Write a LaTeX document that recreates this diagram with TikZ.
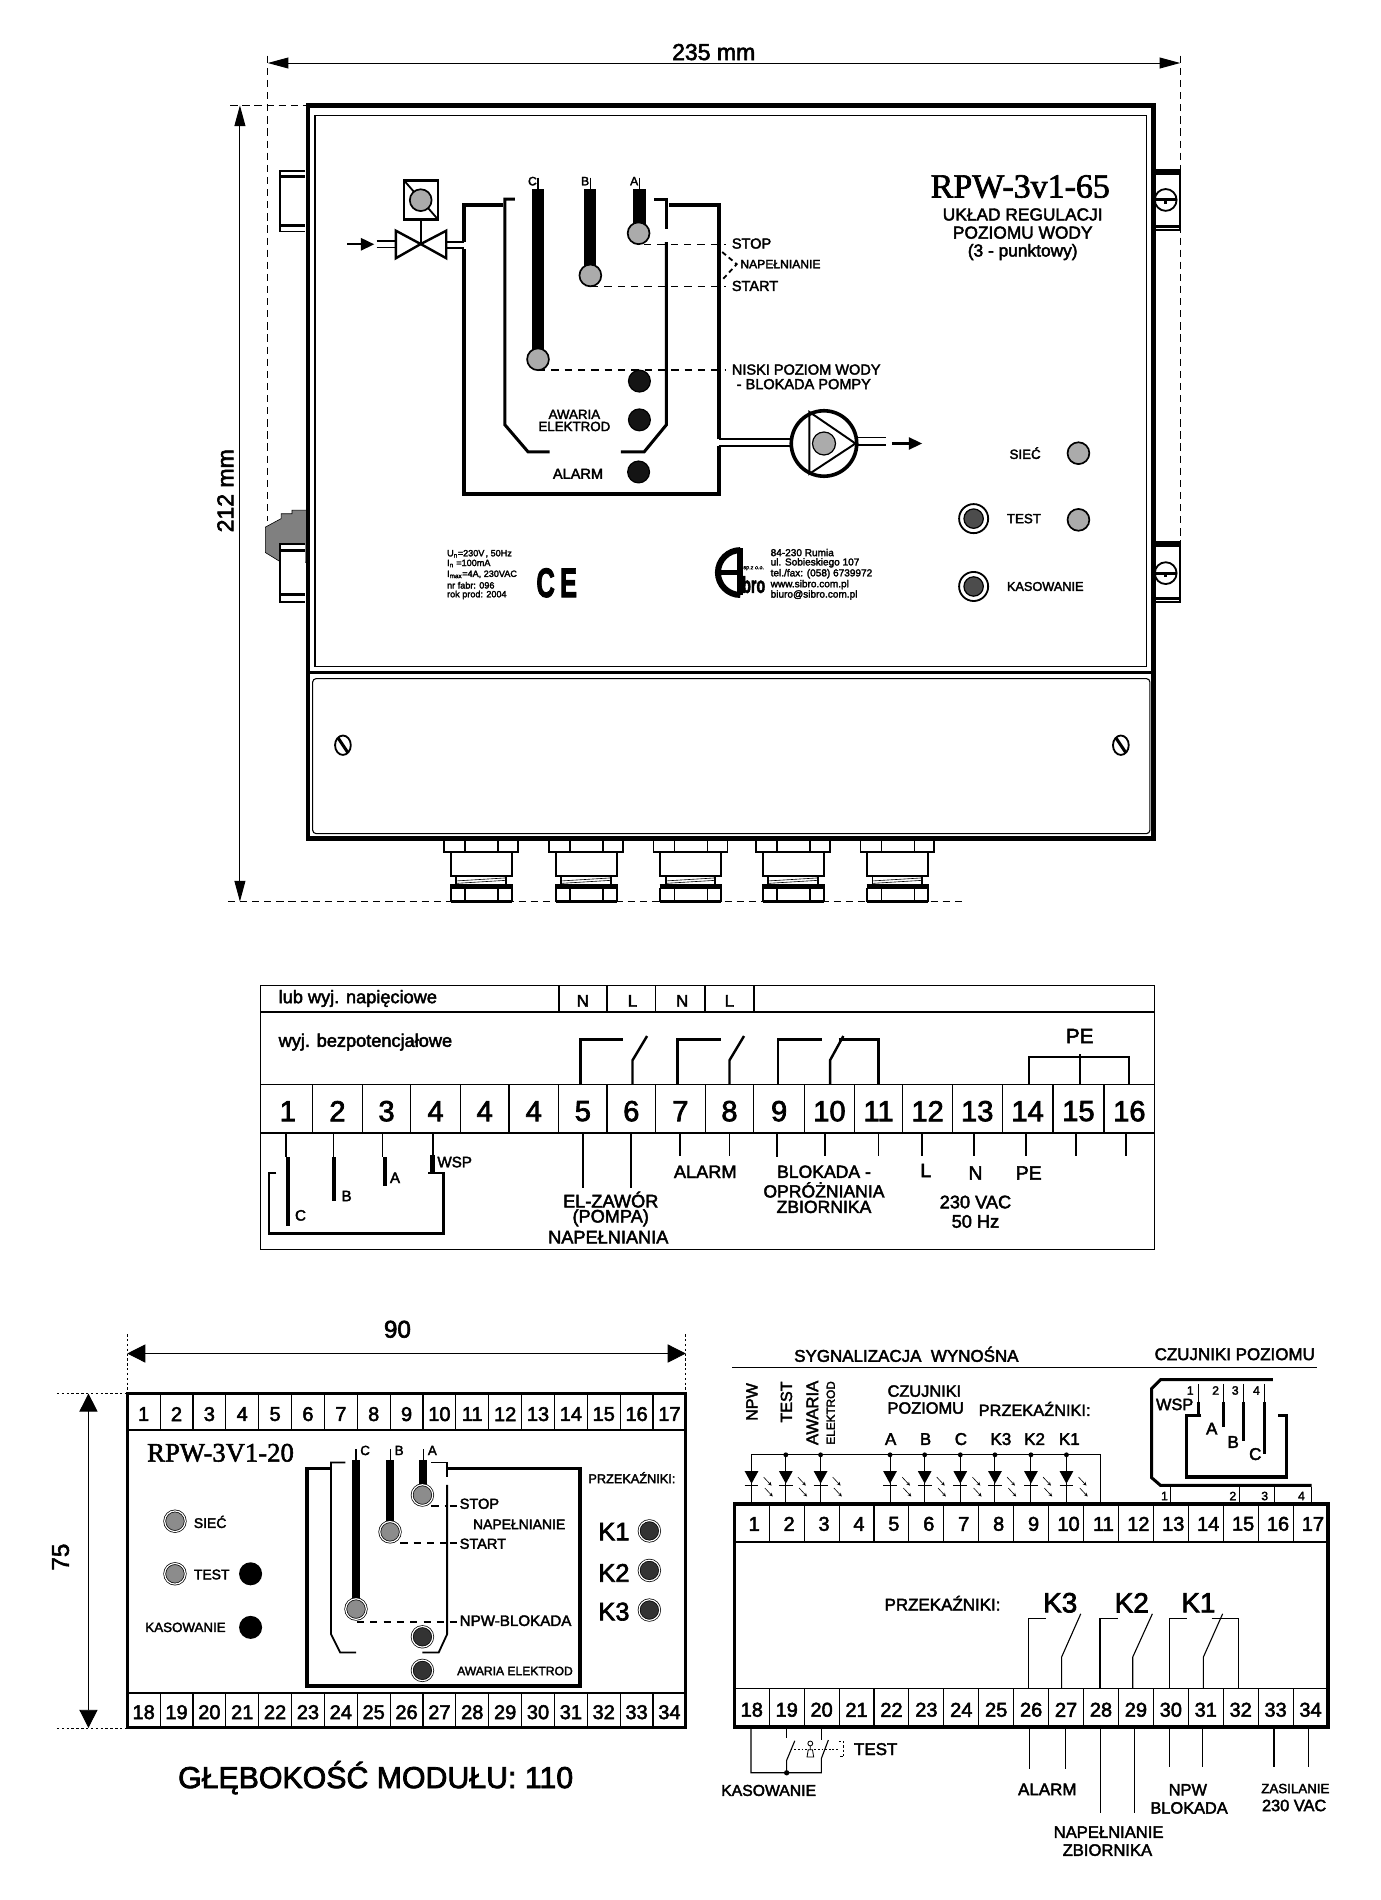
\documentclass[tikz,border=0pt]{standalone}
\usepackage{fontspec}
\setmainfont{Liberation Sans}[RawFeature={embolden=2.5}]
\newfontfamily\serifface{Liberation Serif}[RawFeature={embolden=2}]
\usetikzlibrary{arrows.meta}

\tikzset{
  txt/.style={inner sep=0pt,outer sep=0pt,font=\fontsize{#1}{#1}\selectfont},
  thinline/.style={line width=0.9pt},
  midline/.style={line width=1.5pt},
  wall/.style={line width=3.2pt,line join=miter},
  innerwall/.style={line width=2.5pt,line join=miter},
  dashline/.style={line width=1.5pt,dash pattern=on 6pt off 5pt},
  dimdash/.style={line width=0.8pt,dash pattern=on 6pt off 4pt},
  dimdot/.style={line width=0.7pt,dash pattern=on 2pt off 2pt},
  bighead/.style={{Triangle[length=17pt,width=9pt]}-{Triangle[length=17pt,width=9pt]},line width=0.8pt},
  fathead/.style={{Triangle[length=15pt,width=15pt]}-{Triangle[length=15pt,width=15pt]},line width=0.8pt},
  flowarrow/.style={-{Triangle[length=11pt,width=10pt]},line width=1.8pt},
  ledgray/.style={circle,draw=black,line width=1.4pt,fill=black!33,minimum size=18pt,inner sep=0pt},
  ledblack/.style={circle,draw=black,line width=1pt,fill=black!92,minimum size=18pt,inner sep=0pt},
  ledring/.style={circle,draw=black,double=white,double distance=1pt,line width=0.6pt,minimum size=17pt,inner sep=0pt},
  lighttick/.style={-{Stealth[length=3pt,width=3pt,open]},line width=0.5pt}
}

\begin{document}
\begin{tikzpicture}[x=1pt,y=-1pt]
\useasboundingbox (0,0) rectangle (1139,1568);
\fill[white] (0,0) rectangle (1139,1568);

% dimensions of the housing
\draw[dimdash] (221,46) -- (221,430);
\draw[dimdash] (974,46) -- (974,450);
\draw[dimdash] (190,87) -- (254,87);
\draw[dimdash] (188,744) -- (795,744);
\coordinate (wl) at (221,52);
\coordinate (wr) at (974,52);
\draw[bighead] (wl) -- (wr);
\node[txt=19,fill=white,inner xsep=1pt] (width) at (589,43) {235 mm};
\coordinate (ht) at (198,87);
\coordinate (hb) at (198,744);
\draw[bighead] (ht) -- (hb);
\node[txt=19,rotate=90] (height) at (186,405) {212 mm};

% brackets and cable gland on the left
\fill[black!50,draw=black,line width=0.5pt] (219,435) -- (232,428) -- (232,424) -- (241,424) -- (241,421) -- (254,421) -- (254,464) -- (232,464) -- (219,456) -- cycle;
\draw[midline,fill=white] (252,141) -- (231,141) -- (231,191) -- (252,191);
\draw[midline,fill=white] (252,449) -- (231,449) -- (231,497) -- (252,497);
\draw[line width=2.5pt] (231,146) -- (252,146) (231,186) -- (252,186);
\draw[line width=2.5pt] (231,454) -- (252,454) (231,491) -- (252,491);

% brackets on the right
\foreach \ya/\yb/\yc in {140/190/165,447/497/473}{
  \draw[midline] (952,\ya) -- (974,\ya) -- (974,\yb) -- (952,\yb);
  \draw[line width=3pt] (952,\ya+3) -- (974,\ya+3) (952,\yb-3) -- (974,\yb-3);
  \draw[midline] (962,\yc) circle (9pt);
  \draw[line width=2.5pt] (953,\yc) -- (971,\yc);
  \draw[line width=2pt] (962,\yc) -- (962,\yc+3.5);
}

% housing
\draw[line width=3.6pt] (254,87) rectangle (952,692);
\draw[line width=3pt] (254,555) -- (952,555);
\draw[line width=1pt] (260,95) rectangle (946,550);
\draw[line width=0.9pt,rounded corners=3pt] (258,560) rectangle (949,688);
\foreach \x in {283,925}{
  \draw[midline] (\x,615) ellipse (6.5pt and 8pt);
  \draw[line width=2.5pt] (\x-4,609) -- (\x+4,621);
}

% glands below the housing
\foreach \x in {366.5,453.2,539.3,624,710.1}{
  \draw[midline] (\x,692) rectangle (\x+61,703);
  \draw[midline] (\x+17.4,692) -- (\x+17.4,703) (\x+44.6,692) -- (\x+44.6,703);
  \draw[midline] (\x+5.5,703) rectangle (\x+56,723);
  \draw[midline] (\x+10,723) rectangle (\x+51,730);
  \draw[line width=0.5pt] (\x+10,727) -- (\x+51,724.5) (\x+10,729) -- (\x+51,726.5);
  \draw[line width=3.5pt] (\x+5,731.5) -- (\x+56.5,731.5);
  \draw[midline] (\x+5.5,733) -- (\x+5.5,744) (\x+56,733) -- (\x+56,744) (\x+17.4,733) -- (\x+17.4,744) (\x+44.6,733) -- (\x+44.6,744);
  \draw[line width=2pt] (\x+5.5,744) -- (\x+56,744);
}

% valve on the inlet
\begin{scope}[shift={(1,1)}]
\draw[line width=2pt] (332.5,148) rectangle (360.4,180);
\draw[midline] (332.5,148) -- (360.4,180);
\node[ledgray] (coil) at (346.2,164.2) {};
\draw[line width=2pt,fill=white] (325.7,189.4) -- (346.2,200.4) -- (325.7,212.1) -- cycle;
\draw[line width=2pt,fill=white] (367.3,189.4) -- (346.2,200.4) -- (367.3,212.1) -- cycle;
\draw[line width=2pt] (346.2,180) -- (346.2,200.4);
\draw[midline] (309.8,197.6) -- (325.7,197.6) (309.8,203.3) -- (325.7,203.3);
\draw[midline] (367.3,198.4) -- (382,198.4) (367.3,203.9) -- (382,203.9);
\coordinate (inl) at (285.4,200.6);
\coordinate (inr) at (307.9,200.6);
\draw[flowarrow] (inl) -- (inr);
\end{scope}

% tank
\begin{scope}[shift={(2,1.5)}]
\draw[wall] (413,168) -- (381,168) -- (381,198);
\draw[wall] (381,204) -- (381,406) -- (591,406) -- (591,366.5);
\draw[wall] (591,361) -- (591,168) -- (550,168);
\draw[innerwall] (422.8,162.8) -- (414.6,162.8) -- (414.6,349) -- (433.8,371.4) -- (451.6,371.4);
\draw[innerwall] (537.8,162.8) -- (548,162.8) -- (548,187.5);
\draw[innerwall] (548,198.4) -- (548,349) -- (529.6,371.4) -- (510.4,371.4);

% electrodes
\foreach \x/\xb/\yb/\w/\lab in {442/442/294/10.5/C,485.2/485.2/225.8/10/B,525.7/525/191/10/A}{
  \draw[line width=0.9pt] (\x,145) -- (\x,155);
  \draw[line width=\w pt] (\x,154.6) -- (\x,\yb);
  \node[txt=10,anchor=east] at (\x-1,148) {\lab};
}
\draw[dashline] (529.6,200.3) -- (597,200.3);
\draw[dashline] (485.8,235) -- (597,235);
\draw[dashline] (442,303.8) -- (597,303.8);
\node[ledgray] (elc) at (442,295) {};
\node[ledgray] (elb) at (485.2,225.8) {};
\node[ledgray] (ela) at (525,191) {};
\node[ledblack] (led1) at (525.7,313) {};
\node[ledblack] (led2) at (525.7,345) {};
\node[ledblack] (led3) at (525,388) {};
\end{scope}

\node[txt=11,align=center] (aw) at (474,347) {AWARIA\\[-1pt]ELEKTROD};
\node[txt=12] (al) at (477,391) {ALARM};
\node[txt=12,anchor=west] (stop) at (604,201) {STOP};
\node[txt=10,anchor=west] (nap) at (611,218) {NAPEŁNIANIE};
\node[txt=12,anchor=west] (start) at (604,236) {START};
\draw[midline,dash pattern=on 4pt off 3pt] (596,208) -- (608,218) -- (596,231);
\node[txt=12,anchor=west] (niski) at (604,305) {NISKI POZIOM WODY};
\node[txt=12,anchor=west] (blok) at (608,317) {- BLOKADA POMPY};

% pump
\draw[line width=1.5pt] (593,362.5) -- (652,362.5) (593,368) -- (652,368);
\draw[line width=1.5pt] (703,361) -- (731,361) (703,367.3) -- (731,367.3);
\draw[line width=3pt,fill=white] (680,366) circle (27pt);
\draw[line width=1.6pt] (668,340) -- (668,391) -- (706,366) -- cycle;
\node[ledgray,minimum size=19pt,line width=1pt] (pumpc) at (680,366) {};
\coordinate (outl) at (736,366);
\coordinate (outr) at (761,366);
\draw[flowarrow] (outl) -- (outr);

% title
\node[txt=28,font=\fontsize{28}{28}\selectfont\serifface] (title) at (842,154) {RPW-3v1-65};
\node[txt=14.3] (t1) at (844,177) {UKŁAD REGULACJI};
\node[txt=14.3] (t2) at (844,192) {POZIOMU WODY};
\node[txt=14.3] (t3) at (844,208) {(3 - punktowy)};

% lamps and buttons
\node[txt=11] (siec) at (846,374) {SIEĆ};
\node[ledgray] (lsiec) at (890,374) {};
\node[txt=11] (test) at (845,428) {TEST};
\node[ledgray] (ltest) at (890,429) {};
\node[txt=10.5,anchor=west] (kas) at (831,484) {KASOWANIE};
\foreach \y/\nm in {428/btest,484/bkas}{
  \node[circle,draw,line width=1.5pt,minimum size=24pt,inner sep=0pt] (\nm) at (803.5,\y) {};
  \node[circle,draw,line width=1pt,fill=black!70,minimum size=16pt,inner sep=0pt] at (803.5,\y) {};
}

% plate and logo
\foreach \y/\s in {457/U\textsubscript{n}=230V\kern1pt{,} 50Hz,465/I\textsubscript{n} =100mA,474/I\textsubscript{max}=4A{,} 230VAC,483/nr fabr: 096,491/rok prod: 2004}{
  \node[txt=7.5,anchor=west] at (369,\y) {\s};
}
\node[txt=33,font=\fontsize{34}{34}\selectfont\bfseries] (ce) at (459.5,481) {\scalebox{0.62}[1]{C\kern7pt E}};
\draw[line width=5pt] (611,454) arc (90:270:18.5pt);
\fill (608.5,452) rectangle (613,491);
\fill (593,470.5) rectangle (613,474.5);
\node[txt=16,font=\fontsize{19}{19}\selectfont\bfseries] (bro) at (622,482.5) {\scalebox{0.62}[1]{bro}};
\node[txt=4.5] (spzoo) at (622,469) {sp.z o.o.};
\foreach \y/\s in {456/84-230 Rumia,464.5/ul. Sobieskiego 107,473.5/{tel./fax: (058) 6739972},482.5/www.sibro.com.pl,491/biuro@sibro.com.pl}{
  \node[txt=8.3,anchor=west] at (636,\y) {\s};
}

% connection table
\draw[line width=1pt] (215,813) rectangle (953,1031);
\draw[line width=2pt] (215,835) -- (953,835);
\draw[line width=1pt] (215,895) -- (953,895);
\draw[line width=1pt] (215,935) -- (953,935);
\foreach \n/\xa/\xb [count=\i] in {1/217/258,2/258/299,3/299/339,4/339/380,4/380/420,4/420/461,5/461/501,6/501/541,7/541/582,8/582/622,9/622/664,10/664/705,11/705/745,12/745/786,13/786/827,14/827/869,15/869/911,16/911/953}{
  \draw[line width=1pt] (\xb,895) -- (\xb,935);
  \path (\xa,917) -- (\xb,917) node[midway,txt=24] (ct\i) {\n};
}
\foreach \x in {461,501,541,582,622}{
  \draw[midline] (\x,813) -- (\x,835);
}
\node[txt=15,anchor=west] (lub) at (230,824) {lub wyj. napięciowe};
\node[txt=15,anchor=west] (wyj) at (230,860) {wyj. bezpotencjałowe};
\foreach \x/\s in {481/N,522/L,563/N,602/L}{
  \node[txt=14] at (\x,826) {\s};
}

% contacts in the table
\foreach \xa/\xb/\xc/\xd in {479/514/522/534,559/595/602/614,642/678/685/696}{
  \draw[line width=2pt] (\xa,895) -- (\xa,858) -- (\xb,858);
  \draw[line width=2pt] (\xc,895) -- (\xc,875) -- (\xd,855);
}
\draw[line width=2pt] (692,858) -- (725,858) -- (725,895);
\draw[midline] (849,895) -- (849,872) -- (932,872) -- (932,895) (891,870) -- (891,895);
\node[txt=17] (pe) at (891,855) {PE};

% electrodes and wires below the table
\foreach \x/\xb/\yb/\lab/\xl/\yl in {236/237.5/1012/C/248/1003,275/275.5/991/B/286/987,316/317.5/979/A/326/972}{
  \draw[thinline] (\x,935) -- (\x,955);
  \draw[line width=3.5pt] (\xb,955) -- (\xb,\yb);
  \node[txt=12.5] at (\xl,\yl) {\lab};
}
\draw[midline] (357,935) -- (357,955);
\draw[line width=3.5pt] (357,953) -- (357,968);
\node[txt=12.5,anchor=west] (wsp) at (361,959) {WSP};
\draw[line width=2pt] (228,968) -- (222,968) -- (222,1018) -- (366,1018) -- (366,968) -- (353,968);
\foreach \x/\yb in {481/980,521/980,561/954,602/954,641/955,681/954,725/954,761/954,804/954,847/954,888/954,929/954}{
  \draw[midline] (\x,935) -- (\x,\yb);
}
\node[txt=15] (ez1) at (504,990) {EL-ZAWÓR};
\node[txt=15] (ez2) at (504,1005) {(POMPA)};
\node[txt=15] (ez3) at (502,1021) {NAPEŁNIANIA};
\node[txt=15] (al2) at (582,967) {ALARM};
\node[txt=14.5] (bl1) at (680,967) {BLOKADA -};
\node[txt=14.5] (bl2) at (680,982) {OPRÓŻNIANIA};
\node[txt=14.5] (bl3) at (680,996) {ZBIORNIKA};
\node[txt=16] (ll) at (764,966) {L};
\node[txt=16] (nn) at (805,968) {N};
\node[txt=16] (pe2) at (849,968) {PE};
\node[txt=15] (vac) at (805,992) {230 VAC};
\node[txt=15] (hz) at (805,1008) {50 Hz};

% module, front view
\draw[dimdot] (105,1101) -- (105,1150);
\draw[dimdot] (566,1101) -- (566,1150);
\draw[dimdot] (47,1150) -- (105,1150);
\draw[dimdot] (47,1426) -- (105,1426);
\coordinate (ml) at (105,1117);
\coordinate (mr) at (566,1117);
\draw[fathead] (ml) -- (mr);
\node[txt=20] (d90) at (328,1097) {90};
\coordinate (mt) at (73,1150);
\coordinate (mb) at (73,1426);
\draw[fathead] (mt) -- (mb);
\node[txt=20,rotate=90] (d75) at (50,1285) {75};
\draw[line width=2.5pt] (105,1150) rectangle (566,1426);
\draw[line width=2pt] (105,1180) -- (566,1180);
\draw[line width=2pt] (105,1397) -- (566,1397);
\foreach \i in {1,...,17}{
  \pgfmathsetmacro\xa{105+27.12*\i}
  \pgfmathsetmacro\xc{\xa-13.56}
  \pgfmathtruncatemacro\j{\i+17}
  \ifnum\i<17
    \draw[thinline] (\xa,1150) -- (\xa,1180) (\xa,1397) -- (\xa,1426);
  \fi
  \node[txt=16.5] (ft\i) at (\xc,1167) {\i};
  \node[txt=16.5] (fb\j) at (\xc,1413) {\j};
}
\node[txt=22,font=\fontsize{22}{22}\selectfont\serifface] (ftitle) at (182,1199) {RPW-3V1-20};

\node[ledring,fill=black!45] (fsiec) at (144.4,1255.4) {};
\node[ledring,fill=black!45] (ftest) at (144.4,1298.8) {};
\node[circle,fill=black,minimum size=19pt,inner sep=0pt] (btest2) at (206.8,1298.8) {};
\node[circle,fill=black,minimum size=19pt,inner sep=0pt] (bkas2) at (206.8,1343) {};
\node[txt=11.5,anchor=west] (s2) at (160,1256) {SIEĆ};
\node[txt=11.5,anchor=west] (t2b) at (160,1299.4) {TEST};
\node[txt=11,anchor=west] (k2b) at (120,1343) {KASOWANIE};

% tank on the module
\draw[line width=3pt] (274,1212) -- (253.4,1212) -- (253.4,1391.5) -- (478.7,1391.5) -- (478.7,1212) -- (370,1212);
\draw[midline] (285,1207) -- (273.2,1207) -- (273.2,1348.6) -- (280.8,1363.8) -- (293.8,1363.8);
\draw[midline] (356,1207) -- (369,1207) -- (369,1218.6);
\draw[midline] (369,1225.5) -- (369,1348.6) -- (362,1363.8) -- (348.6,1363.8);
\foreach \x/\yb/\lab in {293.8/1327.9/C,321.9/1264.2/B,349.3/1233.8/A}{
  \draw[thinline] (\x,1196) -- (\x,1205);
  \draw[line width=6.5pt] (\x,1204.8) -- (\x,\yb);
  \node[txt=11] at (\x+7.5,1197) {\lab};
}
\draw[midline,dash pattern=on 6pt off 5pt] (356,1243) -- (370,1243);
\draw[midline,dash pattern=on 6pt off 5pt] (330.4,1273.4) -- (370,1273.4);
\draw[midline,dash pattern=on 6pt off 5pt] (294.5,1338.4) -- (370,1338.4);
\foreach \y in {1243,1273.4,1338.4}{
  \draw[midline] (371,\y) -- (377,\y);
}
\node[ledring,fill=black!45] (fc) at (293.8,1327.9) {};
\node[ledring,fill=black!45] (fb) at (321.9,1264.2) {};
\node[ledring,fill=black!45] (fa) at (348.6,1233.8) {};
\node[ledring,fill=black!80] (fl1) at (348.6,1350.8) {};
\node[ledring,fill=black!80] (fl2) at (348.6,1378.5) {};
\node[txt=12,anchor=west] (fstop) at (379.4,1241) {STOP};
\node[txt=11.5,anchor=west] (fnap) at (390.4,1258) {NAPEŁNIANIE};
\node[txt=12,anchor=west] (fstart) at (379.4,1274) {START};
\node[txt=12.5,anchor=west] (fnpw) at (379.4,1337.5) {NPW-BLOKADA};
\node[txt=10,anchor=west] (faw) at (377.3,1379) {AWARIA ELEKTROD};
\node[txt=10.5,anchor=west] (fprz) at (485.6,1219.4) {PRZEKAŹNIKI:};
\foreach \y/\yl/\s in {1263.4/1264/K1,1296/1298/K2,1328.7/1330/K3}{
  \node[txt=21,anchor=west] at (493.8,\yl) {\s};
  \node[ledring,fill=black!80] at (535.9,\y) {};
}
\node[txt=25] (depth) at (310,1467) {GŁĘBOKOŚĆ MODUŁU: 110};

% module, wiring view
\node[txt=14] (sygn) at (748,1117.6) {SYGNALIZACJA\ \ WYNOŚNA};
\node[txt=14] (czuj) at (1019,1117.6) {CZUJNIKI POZIOMU};
\draw[thinline] (604.3,1128.7) -- (1086.5,1128.7);
\node[txt=13.3,rotate=90] (vnpw) at (620.5,1157) {NPW};
\node[txt=13.3,rotate=90] (vtest) at (649,1157) {TEST};
\node[txt=13.7,rotate=90] (vaw) at (670.4,1166) {AWARIA};
\node[txt=9.7,rotate=90] (vel) at (685.6,1166) {ELEKTROD};
\node[txt=13.5,anchor=west] (cz1) at (732.5,1148) {CZUJNIKI};
\node[txt=13.5,anchor=west] (cz2) at (732.5,1162) {POZIOMU};
\node[txt=13.5,anchor=west] (prz) at (807.7,1162.7) {PRZEKAŹNIKI:};
\foreach \x/\s in {735/A,763.8/B,793/C,826/K3,853.8/K2,882.5/K1}{
  \node[txt=14] at (\x,1187.6) {\s};
}
\draw[line width=0.8pt] (620.2,1240) -- (620.2,1200.6) -- (908,1200.6) -- (908,1240);
\foreach \x in {620.2,648.5,677.2,734.5,763.1,792.5,821.1,850.8,880.1}{
  \draw[line width=0.8pt] (\x,1200.6) -- (\x,1240);
  \fill (\x-5.7,1214) -- (\x+5.7,1214) -- (\x,1224.4) -- cycle;
  \draw[line width=0.8pt] (\x-5.7,1225.5) -- (\x+5.7,1225.5);
  \draw[lighttick] (\x+10,1219) -- (\x+16.5,1226);
  \draw[lighttick] (\x+11,1228) -- (\x+17.5,1235);
}
\foreach \x in {648.5,677.2,734.5,763.1,792.5,821.1,850.8,880.1}{
  \fill (\x,1200.6) circle (2pt);
}

% sensor box
\draw[line width=2.5pt] (1050.4,1138.6) -- (957.7,1138.6) -- (950.3,1146) -- (950.3,1219.4) -- (957.7,1225.8) -- (1082.5,1225.8);
\draw[line width=2.5pt] (991.4,1168.2) -- (979,1168.2) -- (979,1218.9) -- (1062,1218.9) -- (1062,1168.2) -- (1054.5,1168.2);
\foreach \x/\yb/\yn/\n in {988.7/1168/982.3/1,1009.3/1178/1003.2/2,1026/1189/1019.4/3,1043.7/1200/1036.9/4}{
  \draw[line width=0.7pt] (\x,1142) -- (\x,1157);
  \draw[line width=2.5pt] (\x,1157) -- (\x,\yb);
  \node[txt=10] at (\yn,1147.5) {\n};
}
\node[txt=13.5,anchor=west] (swsp) at (954,1159) {WSP};
\node[txt=14] (sa) at (1000,1179) {A};
\node[txt=14] (sb) at (1017.7,1190) {B};
\node[txt=14] (sc) at (1035.9,1200) {C};
\foreach \x/\xn/\n in {966/961/1,1022.8/1017.4/2,1051.4/1043.7/3,1082.5/1074/4}{
  \draw[line width=0.7pt] (\x,1227) -- (\x,1240);
  \node[txt=10] at (\xn,1234.6) {\n};
}

% terminal rows
\draw[line width=3pt] (606,1241) rectangle (1096,1425);
\draw[line width=2pt] (606,1272.5) -- (1096,1272.5);
\draw[line width=0.9pt] (606,1393.2) -- (1096,1393.2);
\foreach \i in {1,...,17}{
  \pgfmathsetmacro\xa{606+28.82*\i}
  \pgfmathsetmacro\xc{\xa-14.41}
  \pgfmathtruncatemacro\j{\i+17}
  \ifnum\i<17
    \draw[thinline] (\xa,1241) -- (\xa,1272.5) (\xa,1393.2) -- (\xa,1425);
  \fi
  \node[txt=16.5] (wt\i) at (\xc+2,1257.6) {\i};
  \node[txt=16.5] (wb\j) at (\xc,1411) {\j};
}
\node[txt=14,anchor=west] (prz2) at (730,1323) {PRZEKAŹNIKI:};
\node[txt=23] (k3) at (875,1322.7) {K3};
\node[txt=23] (k2) at (934,1322.7) {K2};
\node[txt=23] (k1) at (989,1322.7) {K1};
\foreach \xa/\xb/\xc/\xd in {849.1/863.3/876.1/891.9,907.8/922.3/934.8/951,965.5/979.6/993.1/1009}{
  \draw[thinline] (\xa,1393) -- (\xa,1336) -- (\xb,1336);
  \draw[thinline] (\xc,1393) -- (\xc,1367.5) -- (\xd,1331.8);
}
\draw[thinline] (999.9,1336) -- (1022.1,1336) -- (1022.1,1393);

% wires below the terminals
\foreach \x/\yb in {849.8/1459.6,879.5/1459.6,908.1/1496,936.5/1496,965.1/1458.2,992.4/1458.2,1051.4/1458.2,1079.8/1458.2}{
  \draw[thinline] (\x,1425) -- (\x,\yb);
}
\draw[thinline] (619.8,1425) -- (619.8,1463) -- (677.8,1463) -- (677.8,1451.3) -- (683.6,1436);
\draw[thinline] (677.8,1425) -- (677.8,1436);
\draw[thinline] (649.2,1425) -- (649.2,1434);
\draw[thinline] (649.2,1463) -- (649.2,1452.7) -- (655.9,1436.6);
\fill (649.2,1463) circle (2.2pt);
\draw[line width=0.6pt,dash pattern=on 1.5pt off 1.5pt] (652.5,1443.8) -- (666,1443.8) (672,1443.8) -- (692,1443.8);
\draw[line width=0.7pt] (668.7,1438.8) circle (2pt);
\draw[line width=0.7pt] (668.7,1441) -- (668.7,1444) (666,1450) -- (667,1444) -- (670.5,1444) -- (671.5,1450) -- cycle;
\draw[line width=0.7pt,dash pattern=on 2pt off 1.5pt] (692.3,1437.4) -- (696.4,1437.4) -- (696.4,1449.9) -- (692.3,1449.9);
\node[txt=14,anchor=west] (wtest) at (704.8,1443.5) {TEST};
\node[txt=13,anchor=west] (wkas) at (595.2,1477.6) {KASOWANIE};
\node[txt=14] (wal) at (864.3,1476.7) {ALARM};
\node[txt=13.7] (wn1) at (914.9,1512) {NAPEŁNIANIE};
\node[txt=13.7] (wn2) at (913.9,1526.8) {ZBIORNIKA};
\node[txt=13.5] (wb1) at (980.3,1477) {NPW};
\node[txt=13.5] (wb2) at (981.3,1492) {BLOKADA};
\node[txt=11] (wz1) at (1069,1476) {ZASILANIE};
\node[txt=13.5] (wz2) at (1068,1490) {230 VAC};

\end{tikzpicture}
\end{document}
